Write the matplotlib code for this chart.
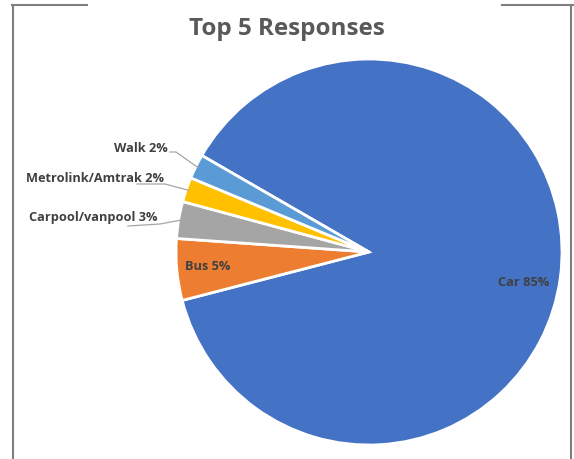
import matplotlib
matplotlib.use("Agg")
import matplotlib.pyplot as plt
from matplotlib.lines import Line2D
import numpy as np

# data
categories = ["Car", "Bus", "Carpool/vanpool", "Metrolink/Amtrak", "Walk"]
values = [85, 5, 3, 2, 2]
colors = ["#4472C4", "#ED7D31", "#A5A5A5", "#FFC000", "#5B9BD5"]

plt.rcParams['font.family'] = ['Open Sans', 'DejaVu Sans']

W, H = 574, 459
fig = plt.figure(figsize=(W / 100, H / 100), dpi=100)
ax = fig.add_axes([0, 0, 1, 1])

# pixel geometry of the pie
cx, cy, R = 369, 252, 193

def px(x, y):
    return (x - cx) / R, (cy - y) / R

wedges, _ = ax.pie(values, colors=colors, startangle=150.0, counterclock=False,
                   radius=1.0, wedgeprops=dict(edgecolor="white", linewidth=2))
ax.set_aspect("auto")
ax.set_xlim(-cx / R, (W - cx) / R)
ax.set_ylim(-(H - cy) / R, cy / R)
ax.axis("off")

txt_color = "#404040"
labels = [f"{c} {v}%" for c, v in zip(categories, values)]

# inside labels
inside = {0: (524, 283), 1: (208, 266)}
for i, (x, y) in inside.items():
    ax.text(*px(x, y), labels[i], ha="center", va="center", fontsize=9.2,
            fontweight="bold", color=txt_color)

# outside labels with leader lines: text anchor (right end), line start, elbow
outside = {
    2: ((157, 217), (128, 226), (160, 224)),
    3: ((164, 178), (137, 184), (165, 184)),
    4: ((168, 148), (170, 152), (176, 152)),
}
for i, (tpos, lstart, elbow) in outside.items():
    ax.text(*px(*tpos), labels[i], ha="right", va="center", fontsize=9.2,
            fontweight="bold", color=txt_color)
    w = wedges[i]
    ang = np.radians((w.theta1 + w.theta2) / 2)
    ex, ey = np.cos(ang) * 0.99, np.sin(ang) * 0.99
    p0 = px(*lstart)
    p1 = px(*elbow)
    ax.plot([p0[0], p1[0], ex], [p0[1], p1[1], ey], color="#A6A6A6", lw=0.9)

fig.text(287 / W, 1 - 29 / H, "Top 5 Responses", ha="center", va="center",
         fontsize=17.5, fontweight="bold", color="#595959")

# frame of the chart area
frame = dict(color="#7F7F7F", lw=1.5, transform=fig.transFigure)
fig.add_artist(Line2D([12.5 / W, 12.5 / W], [0, 1 - 4.5 / H], **frame))
fig.add_artist(Line2D([570.5 / W, 570.5 / W], [0, 1 - 4.5 / H], **frame))
fig.add_artist(Line2D([12 / W, 87 / W], [1 - 4.5 / H, 1 - 4.5 / H], **frame))
fig.add_artist(Line2D([502 / W, 1], [1 - 4.5 / H, 1 - 4.5 / H], **frame))

fig.savefig("out.png", dpi=100)
